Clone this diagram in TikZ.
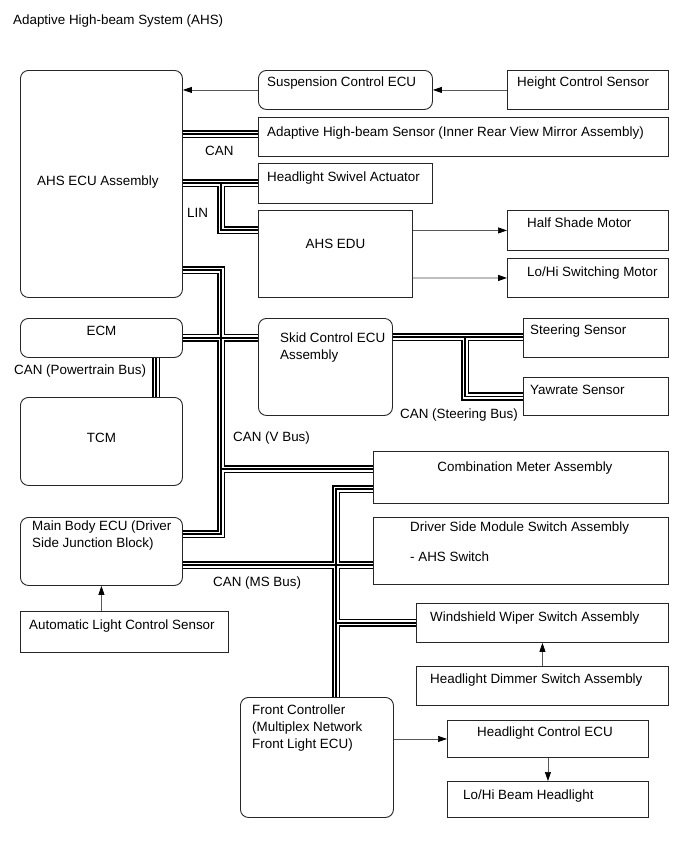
\documentclass[tikz,border=0pt]{standalone}
\usepackage{fontspec}
\setmainfont{Liberation Sans}
\usetikzlibrary{arrows.meta, positioning}
\newcommand{\lbl}{\fontsize{13.4}{17}\selectfont}

\begin{document}
\begin{tikzpicture}[
  x=1pt, y=-1pt,
  box/.style={draw=black!85, line width=0.9pt, inner sep=0pt, anchor=north west},
  rbox/.style={box, rounded corners=8pt},
  txt/.style={inner sep=0pt, align=left, font=\lbl, execute at begin node=\strut},
  arr/.style={-{Triangle[length=9pt, width=6pt, color=black]}, line width=0.7pt, black!65}
]
\useasboundingbox (0,0) rectangle (689,854);

\node[txt, anchor=west] (title) at (13,21) {Adaptive High-beam System (AHS)};

\node[rbox, minimum width=162pt, minimum height=227pt] (ahs)    at (20,70)   {};
\node[rbox, minimum width=174pt, minimum height=39pt]  (susp)   at (258,70)  {};
\node[box,  minimum width=161pt, minimum height=39pt]  (hcs)    at (507,70)  {};
\node[box,  minimum width=410pt, minimum height=39pt]  (ahss)   at (258,117) {};
\node[box,  minimum width=174pt, minimum height=40pt]  (swivel) at (258,163) {};
\node[box,  minimum width=154pt, minimum height=87pt]  (edu)    at (258,210) {};
\node[box,  minimum width=161pt, minimum height=40pt]  (half)   at (507,210) {};
\node[box,  minimum width=161pt, minimum height=39pt]  (lohi)   at (507,258) {};
\node[rbox, minimum width=162pt, minimum height=39pt]  (ecm)    at (20,318)  {};
\node[rbox, minimum width=162pt, minimum height=88pt]  (tcm)    at (20,397)  {};
\node[rbox, minimum width=134pt, minimum height=97pt]  (skid)   at (258,318) {};
\node[box,  minimum width=145pt, minimum height=39pt]  (steer)  at (523,318) {};
\node[box,  minimum width=145pt, minimum height=38pt]  (yaw)    at (523,377) {};
\node[box,  minimum width=295pt, minimum height=52pt]  (comb)   at (373,451) {};
\node[rbox, minimum width=162pt, minimum height=68pt]  (mbody)  at (20,517)  {};
\node[box,  minimum width=295pt, minimum height=67pt]  (drv)    at (373,517) {};
\node[box,  minimum width=208pt, minimum height=41pt]  (alc)    at (20,611)  {};
\node[box,  minimum width=252pt, minimum height=39pt]  (wiper)  at (416,603) {};
\node[box,  minimum width=252pt, minimum height=39pt]  (dimmer) at (416,666) {};
\node[rbox, minimum width=153pt, minimum height=120pt] (front)  at (240,697) {};
\node[box,  minimum width=201pt, minimum height=37pt]  (hce)    at (447,720) {};
\node[box,  minimum width=201pt, minimum height=36pt]  (lohib)  at (447,781) {};

\node[txt, below right=103pt and 17pt of ahs.north west] (ahs-t) {AHS ECU Assembly};
\node[txt, below right=4pt and 9pt of susp.north west] (susp-t) {Suspension Control ECU};
\node[txt, below right=4pt and 10pt of hcs.north west] (hcs-t) {Height Control Sensor};
\node[txt, below right=7pt and 9pt of ahss.north west] (ahss-t) {Adaptive High-beam Sensor (Inner Rear View Mirror Assembly)};
\node[txt, below right=6pt and 9pt of swivel.north west] (swivel-t) {Headlight Swivel Actuator};
\node[txt, below=26pt of edu.north] (edu-t) {AHS EDU};
\node[txt, below right=5pt and 20pt of half.north west] (half-t) {Half Shade Motor};
\node[txt, below right=6pt and 20pt of lohi.north west] (lohi-t) {Lo/Hi Switching Motor};
\node[txt, below=5pt of ecm.north] (ecm-t) {ECM};
\node[txt, below=33pt of tcm.north] (tcm-t) {TCM};
\node[txt, below right=15pt and 22pt of skid.north west] (skid-t) {Skid Control ECU\\Assembly};
\node[txt, below right=4pt and 7pt of steer.north west] (steer-t) {Steering Sensor};
\node[txt, below right=5pt and 7pt of yaw.north west] (yaw-t) {Yawrate Sensor};
\node[txt, below=8pt of comb.north, xshift=4pt] (comb-t) {Combination Meter Assembly};
\node[txt, below right=4pt and 12pt of mbody.north west] (mbody-t) {Main Body ECU (Driver\\Side Junction Block)};
\node[txt, below right=5pt and 37pt of drv.north west] (drv-t) {Driver Side Module Switch Assembly\\[13pt]- AHS Switch};
\node[txt, below right=6pt and 9pt of alc.north west] (alc-t) {Automatic Light Control Sensor};
\node[txt, below right=6pt and 14pt of wiper.north west] (wiper-t) {Windshield Wiper Switch Assembly};
\node[txt, below right=5pt and 14pt of dimmer.north west] (dimmer-t) {Headlight Dimmer Switch Assembly};
\node[txt, below right=8pt and 12pt of front.north west] (front-t) {Front Controller\\(Multiplex Network\\Front Light ECU)};
\node[txt, below right=4pt and 30pt of hce.north west] (hce-t) {Headlight Control ECU};
\node[txt, below right=6pt and 16pt of lohib.north west] (lohib-t) {Lo/Hi Beam Headlight};

\coordinate (c1) at (220,134);
\coordinate (l1) at (221,183);
\coordinate (l2) at (221,230);
\coordinate (v1) at (221,270);
\coordinate (v2) at (221,469);
\coordinate (v3) at (221,534);
\coordinate (s1) at (465,337);
\coordinate (m1) at (336,489);
\coordinate (m2) at (336,565);
\coordinate (pt) at (156,377);

\foreach \w/\c in {8.5/black, 5/white, 1.5/black} {
  \begin{scope}[line width=\w pt, draw=\c, line join=miter]
    \draw (ahs.east |- c1) -- (ahss.west |- c1);
    \draw (ahs.east |- l1) -- (swivel.west |- l1);
    \draw (l1) -- (l2) -- (edu.west |- l2);
    \draw (ahs.east |- v1) -- (v1) -- (v3) -- (mbody.east |- v3);
    \draw (ecm.east) -- (skid.west |- ecm.east);
    \draw (v2) -- (comb.west |- v2);
    \draw (skid.east |- s1) -- (steer.west |- s1);
    \draw (s1) -- (s1 |- yaw.west) -- (yaw.west);
    \draw (comb.west |- m1) -- (m1) -- (m1 |- front.north);
    \draw (mbody.east |- m2) -- (drv.west |- m2);
    \draw (m1 |- wiper.west) -- (wiper.west);
    \draw (ecm.south -| pt) -- (tcm.north -| pt);
  \end{scope}
}

\node[txt, anchor=west] (can-l)   at (205,152) {CAN};
\node[txt, anchor=west] (lin-l)   at (187,214) {LIN};
\node[txt, anchor=west] (pt-l)    at (14,371)  {CAN (Powertrain Bus)};
\node[txt, anchor=west] (steer-l) at (400,415) {CAN (Steering Bus)};
\node[txt, anchor=west] (v-l)     at (233,438) {CAN (V Bus)};
\node[txt, anchor=west] (ms-l)    at (213,583) {CAN (MS Bus)};

\draw[arr] (susp.west) -- (ahs.east |- susp.west);
\draw[arr] (hcs.west) -- (susp.east);
\draw[arr] (edu.east |- half.west) -- (half.west);
\draw[arr, black!25, line width=1.2pt] (edu.east |- lohi.west) -- (lohi.west);
\draw[arr] (alc.north -| mbody.south) -- (mbody.south);
\draw[arr] (dimmer.north) -- (wiper.south);
\draw[arr] (front.east |- hce.west) -- (hce.west);
\draw[arr] (hce.south) -- (lohib.north);
\end{tikzpicture}
\end{document}
